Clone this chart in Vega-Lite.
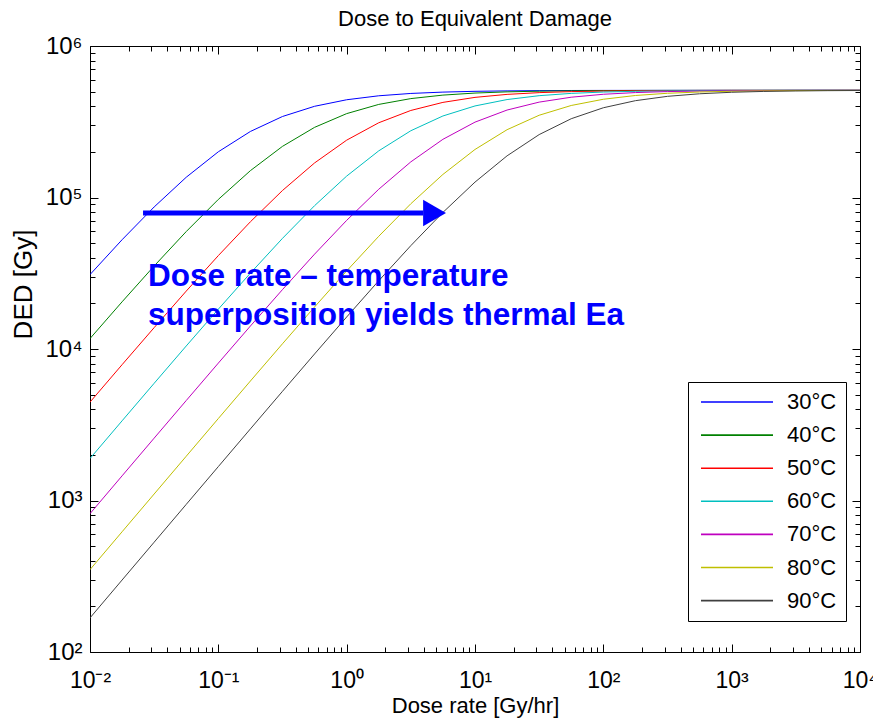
{
  "$schema": "https://vega.github.io/schema/vega-lite/v6.json",
  "width": 770,
  "height": 606,
  "autosize": {"type": "none"},
  "padding": {"left": 90, "top": 46, "right": 13, "bottom": 72},
  "background": "white",
  "config": {
    "font": "Liberation Sans",
    "view": {"stroke": "black", "strokeWidth": 1},
    "axis": {"grid": false, "domain": false, "tickColor": "black", "tickWidth": 1, "labelColor": "black", "titleColor": "black", "labelFont": "Liberation Sans", "titleFont": "Liberation Sans", "titleFontWeight": "normal", "labelFlush": false, "labelOverlap": false}
  },
  "title": {"text": "Dose to Equivalent Damage", "fontSize": 22, "fontWeight": "normal", "font": "Liberation Sans", "color": "black", "anchor": "middle", "baseline": "alphabetic", "frame": "group", "offset": -14},
  "datasets": {
    "curves": [
      {"r": 0.01, "d": 30990, "t": "30°C"}, {"r": 0.01778, "d": 52620, "t": "30°C"}, {"r": 0.03162, "d": 86630, "t": "30°C"}, {"r": 0.05623, "d": 136050, "t": "30°C"}, {"r": 0.1, "d": 200350, "t": "30°C"}, {"r": 0.1778, "d": 272850, "t": "30°C"}, {"r": 0.3162, "d": 342560, "t": "30°C"}, {"r": 0.5623, "d": 400000, "t": "30°C"}, {"r": 1, "d": 441700, "t": "30°C"}, {"r": 1.778, "d": 469180, "t": "30°C"}, {"r": 3.162, "d": 486190, "t": "30°C"}, {"r": 5.623, "d": 496300, "t": "30°C"}, {"r": 10, "d": 502190, "t": "30°C"}, {"r": 17.78, "d": 505560, "t": "30°C"}, {"r": 31.62, "d": 507460, "t": "30°C"}, {"r": 56.23, "d": 508540, "t": "30°C"}, {"r": 100, "d": 509170, "t": "30°C"}, {"r": 1000, "d": 509900, "t": "30°C"}, {"r": 10000, "d": 510000, "t": "30°C"},
      {"r": 0.01, "d": 11720, "t": "40°C"}, {"r": 0.01778, "d": 20480, "t": "40°C"}, {"r": 0.03162, "d": 35320, "t": "40°C"}, {"r": 0.05623, "d": 59590, "t": "40°C"}, {"r": 0.1, "d": 97140, "t": "40°C"}, {"r": 0.1778, "d": 150420, "t": "40°C"}, {"r": 0.3162, "d": 217560, "t": "40°C"}, {"r": 0.5623, "d": 290440, "t": "40°C"}, {"r": 1, "d": 357870, "t": "40°C"}, {"r": 1.778, "d": 411570, "t": "40°C"}, {"r": 3.162, "d": 449540, "t": "40°C"}, {"r": 5.623, "d": 474110, "t": "40°C"}, {"r": 10, "d": 489170, "t": "40°C"}, {"r": 17.78, "d": 498030, "t": "40°C"}, {"r": 31.62, "d": 503170, "t": "40°C"}, {"r": 56.23, "d": 506120, "t": "40°C"}, {"r": 100, "d": 507800, "t": "40°C"}, {"r": 177.8, "d": 508730, "t": "40°C"}, {"r": 316.2, "d": 509270, "t": "40°C"}, {"r": 1000, "d": 509740, "t": "40°C"}, {"r": 10000, "d": 510000, "t": "40°C"},
      {"r": 0.01, "d": 4461, "t": "50°C"}, {"r": 0.01778, "d": 7878, "t": "50°C"}, {"r": 0.03162, "d": 13840, "t": "50°C"}, {"r": 0.05623, "d": 24110, "t": "50°C"}, {"r": 0.1, "d": 41350, "t": "50°C"}, {"r": 0.1778, "d": 69160, "t": "50°C"}, {"r": 0.3162, "d": 111250, "t": "50°C"}, {"r": 0.5623, "d": 169120, "t": "50°C"}, {"r": 1, "d": 239050, "t": "50°C"}, {"r": 1.778, "d": 311450, "t": "50°C"}, {"r": 3.162, "d": 375400, "t": "50°C"}, {"r": 5.623, "d": 424410, "t": "50°C"}, {"r": 10, "d": 458040, "t": "50°C"}, {"r": 17.78, "d": 479390, "t": "50°C"}, {"r": 31.62, "d": 492300, "t": "50°C"}, {"r": 56.23, "d": 499880, "t": "50°C"}, {"r": 100, "d": 504240, "t": "50°C"}, {"r": 177.8, "d": 506710, "t": "50°C"}, {"r": 316.2, "d": 508130, "t": "50°C"}, {"r": 562.3, "d": 508910, "t": "50°C"}, {"r": 1000, "d": 509350, "t": "50°C"}, {"r": 10000, "d": 509930, "t": "50°C"},
      {"r": 0.01, "d": 1893, "t": "60°C"}, {"r": 0.01778, "d": 3356, "t": "60°C"}, {"r": 0.03162, "d": 5938, "t": "60°C"}, {"r": 0.05623, "d": 10470, "t": "60°C"}, {"r": 0.1, "d": 18320, "t": "60°C"}, {"r": 0.1778, "d": 31680, "t": "60°C"}, {"r": 0.3162, "d": 53750, "t": "60°C"}, {"r": 0.5623, "d": 88330, "t": "60°C"}, {"r": 1, "d": 138420, "t": "60°C"}, {"r": 1.778, "d": 203200, "t": "60°C"}, {"r": 3.162, "d": 275820, "t": "60°C"}, {"r": 5.623, "d": 345190, "t": "60°C"}, {"r": 10, "d": 402040, "t": "60°C"}, {"r": 17.78, "d": 443070, "t": "60°C"}, {"r": 31.62, "d": 470040, "t": "60°C"}, {"r": 56.23, "d": 486710, "t": "60°C"}, {"r": 100, "d": 496620, "t": "60°C"}, {"r": 177.8, "d": 502360, "t": "60°C"}, {"r": 316.2, "d": 505660, "t": "60°C"}, {"r": 562.3, "d": 507510, "t": "60°C"}, {"r": 1000, "d": 508570, "t": "60°C"}, {"r": 3162, "d": 509540, "t": "60°C"}, {"r": 10000, "d": 509850, "t": "60°C"},
      {"r": 0.01, "d": 818.7, "t": "70°C"}, {"r": 0.01778, "d": 1454, "t": "70°C"}, {"r": 0.03162, "d": 2580, "t": "70°C"}, {"r": 0.05623, "d": 4570, "t": "70°C"}, {"r": 0.1, "d": 8070, "t": "70°C"}, {"r": 0.1778, "d": 14180, "t": "70°C"}, {"r": 0.3162, "d": 24670, "t": "70°C"}, {"r": 0.5623, "d": 42290, "t": "70°C"}, {"r": 1, "d": 70640, "t": "70°C"}, {"r": 1.778, "d": 113380, "t": "70°C"}, {"r": 3.162, "d": 171890, "t": "70°C"}, {"r": 5.623, "d": 242140, "t": "70°C"}, {"r": 10, "d": 314420, "t": "70°C"}, {"r": 17.78, "d": 377800, "t": "70°C"}, {"r": 31.62, "d": 426130, "t": "70°C"}, {"r": 56.23, "d": 459160, "t": "70°C"}, {"r": 100, "d": 480080, "t": "70°C"}, {"r": 177.8, "d": 492710, "t": "70°C"}, {"r": 316.2, "d": 500100, "t": "70°C"}, {"r": 562.3, "d": 504360, "t": "70°C"}, {"r": 1000, "d": 506790, "t": "70°C"}, {"r": 1778, "d": 508160, "t": "70°C"}, {"r": 3162, "d": 508940, "t": "70°C"}, {"r": 10000, "d": 509640, "t": "70°C"},
      {"r": 0.01, "d": 349.8, "t": "80°C"}, {"r": 0.01778, "d": 621.5, "t": "80°C"}, {"r": 0.03162, "d": 1104, "t": "80°C"}, {"r": 0.05623, "d": 1960, "t": "80°C"}, {"r": 0.1, "d": 3476, "t": "80°C"}, {"r": 0.1778, "d": 6148, "t": "80°C"}, {"r": 0.3162, "d": 10830, "t": "80°C"}, {"r": 0.5623, "d": 18950, "t": "80°C"}, {"r": 1, "d": 32750, "t": "80°C"}, {"r": 1.778, "d": 55460, "t": "80°C"}, {"r": 3.162, "d": 90940, "t": "80°C"}, {"r": 5.623, "d": 142000, "t": "80°C"}, {"r": 10, "d": 207550, "t": "80°C"}, {"r": 17.78, "d": 280280, "t": "80°C"}, {"r": 31.62, "d": 349090, "t": "80°C"}, {"r": 56.23, "d": 405010, "t": "80°C"}, {"r": 100, "d": 445100, "t": "80°C"}, {"r": 177.8, "d": 471320, "t": "80°C"}, {"r": 316.2, "d": 487470, "t": "80°C"}, {"r": 562.3, "d": 497070, "t": "80°C"}, {"r": 1000, "d": 502610, "t": "80°C"}, {"r": 1778, "d": 505790, "t": "80°C"}, {"r": 3162, "d": 507610, "t": "80°C"}, {"r": 5623, "d": 508640, "t": "80°C"}, {"r": 10000, "d": 509230, "t": "80°C"},
      {"r": 0.01, "d": 167.9, "t": "90°C"}, {"r": 0.01778, "d": 298.5, "t": "90°C"}, {"r": 0.03162, "d": 530.6, "t": "90°C"}, {"r": 0.05623, "d": 942.9, "t": "90°C"}, {"r": 0.1, "d": 1674.5, "t": "90°C"}, {"r": 0.1778, "d": 2970, "t": "90°C"}, {"r": 0.3162, "d": 5257, "t": "90°C"}, {"r": 0.5623, "d": 9275, "t": "90°C"}, {"r": 1, "d": 16264, "t": "90°C"}, {"r": 1.778, "d": 28217, "t": "90°C"}, {"r": 3.162, "d": 48110, "t": "90°C"}, {"r": 5.623, "d": 79702, "t": "90°C"}, {"r": 10, "d": 126370, "t": "90°C"}, {"r": 17.78, "d": 188370, "t": "90°C"}, {"r": 31.62, "d": 260180, "t": "90°C"}, {"r": 56.23, "d": 331170, "t": "90°C"}, {"r": 100, "d": 391210, "t": "90°C"}, {"r": 177.8, "d": 435580, "t": "90°C"}, {"r": 316.2, "d": 465270, "t": "90°C"}, {"r": 562.3, "d": 483820, "t": "90°C"}, {"r": 1000, "d": 494930, "t": "90°C"}, {"r": 1778, "d": 501380, "t": "90°C"}, {"r": 3162, "d": 505100, "t": "90°C"}, {"r": 5623, "d": 507200, "t": "90°C"}, {"r": 10000, "d": 508390, "t": "90°C"}
    ],
    "arrow": [{"r": 0.0259, "d": 79000}, {"r": 3.95, "d": 79000}],
    "head": [{"r": 4.84, "d": 79000}],
    "note": [
      {"r": 0.0283, "d": 26060, "line": "Dose rate – temperature"},
      {"r": 0.0283, "d": 14390, "line": "superposition yields thermal Ea"}
    ]
  },
  "layer": [
    {
      "data": {"name": "curves"},
      "mark": {"type": "line", "strokeWidth": 1, "clip": true},
      "encoding": {
        "x": {"field": "r", "type": "quantitative",
          "scale": {"type": "log", "domain": [0.01, 10000], "nice": false},
          "axis": {"orient": "bottom", "values": [0.01, 0.1, 1, 10, 100, 1000, 10000],
            "labelExpr": "datum.value < 0.05 ? '10⁻²' : datum.value < 0.5 ? '10⁻¹' : datum.value < 5 ? '10⁰' : datum.value < 50 ? '10¹' : datum.value < 500 ? '10²' : datum.value < 5000 ? '10³' : '10⁴'",
            "tickSize": -8, "labelPadding": 25, "labelFontSize": 23, "labelBaseline": "top", "labelAlign": "center",
            "title": "Dose rate [Gy/hr]", "titleFontSize": 22, "titleX": 385, "titleY": 60, "titleAlign": "center", "titleBaseline": "alphabetic"}},
        "y": {"field": "d", "type": "quantitative",
          "scale": {"type": "log", "domain": [100, 1000000], "nice": false},
          "axis": {"orient": "left", "values": [100, 1000, 10000, 100000, 1000000],
            "labelExpr": "datum.value < 500 ? '10²' : datum.value < 5000 ? '10³' : datum.value < 50000 ? '10⁴' : datum.value < 500000 ? '10⁵' : '10⁶'",
            "tickSize": -8, "labelPadding": 16, "labelFontSize": 24, "labelBaseline": "middle", "labelAlign": "right",
            "title": "DED [Gy]", "titleFontSize": 26, "titleAngle": -90, "titleX": -59, "titleY": 238, "titleAlign": "center", "titleBaseline": "alphabetic"}},
        "color": {"field": "t", "type": "nominal",
          "scale": {"domain": ["30°C", "40°C", "50°C", "60°C", "70°C", "80°C", "90°C"], "range": ["#0000ff", "#008000", "#ff0000", "#00bfbf", "#bf00bf", "#bfbf00", "#404040"]},
          "legend": {"title": null, "orient": "none", "legendX": 598, "legendY": 336, "symbolType": "M-6,0H6", "symbolSize": 144, "symbolOffset": 29, "symbolStrokeWidth": 1.6, "labelOffset": 39, "labelFontSize": 22, "labelFont": "Liberation Sans", "labelColor": "black", "strokeColor": "black", "fillColor": "white", "padding": 9, "rowPadding": 11.1}}
      }
    },
    {
      "data": {"name": "arrow"},
      "mark": {"type": "line", "color": "#0000ff", "strokeWidth": 5, "strokeCap": "butt"},
      "encoding": {
        "x": {"field": "r", "type": "quantitative", "scale": {"type": "log", "domain": [0.01, 10000], "nice": false},
          "axis": {"orient": "top", "values": [0.01, 0.1, 1, 10, 100, 1000, 10000], "labels": false, "tickSize": -8, "title": null}},
        "y": {"field": "d", "type": "quantitative", "scale": {"type": "log", "domain": [100, 1000000], "nice": false},
          "axis": {"orient": "right", "values": [100, 1000, 10000, 100000, 1000000], "labels": false, "tickSize": -8, "title": null}}
      }
    },
    {
      "data": {"name": "head"},
      "mark": {"type": "point", "shape": "triangle-right", "filled": true, "color": "#0000ff", "opacity": 1, "size": 700},
      "encoding": {
        "x": {"field": "r", "type": "quantitative", "scale": {"type": "log", "domain": [0.01, 10000], "nice": false},
          "axis": {"orient": "bottom", "values": [0.02, 0.03, 0.04, 0.05, 0.06, 0.07, 0.08, 0.09, 0.2, 0.3, 0.4, 0.5, 0.6, 0.7, 0.8, 0.9, 2, 3, 4, 5, 6, 7, 8, 9, 20, 30, 40, 50, 60, 70, 80, 90, 200, 300, 400, 500, 600, 700, 800, 900, 2000, 3000, 4000, 5000, 6000, 7000, 8000, 9000], "labels": false, "tickSize": -5, "title": null}},
        "y": {"field": "d", "type": "quantitative", "scale": {"type": "log", "domain": [100, 1000000], "nice": false},
          "axis": {"orient": "left", "values": [200, 300, 400, 500, 600, 700, 800, 900, 2000, 3000, 4000, 5000, 6000, 7000, 8000, 9000, 20000, 30000, 40000, 50000, 60000, 70000, 80000, 90000, 200000, 300000, 400000, 500000, 600000, 700000, 800000, 900000], "labels": false, "tickSize": -5, "title": null}}
      }
    },
    {
      "data": {"name": "note"},
      "mark": {"type": "text", "align": "left", "baseline": "alphabetic", "font": "Liberation Sans", "fontSize": 31.5, "fontWeight": "bold", "color": "#0000ff"},
      "encoding": {
        "x": {"field": "r", "type": "quantitative", "scale": {"type": "log", "domain": [0.01, 10000], "nice": false},
          "axis": {"orient": "top", "values": [0.02, 0.03, 0.04, 0.05, 0.06, 0.07, 0.08, 0.09, 0.2, 0.3, 0.4, 0.5, 0.6, 0.7, 0.8, 0.9, 2, 3, 4, 5, 6, 7, 8, 9, 20, 30, 40, 50, 60, 70, 80, 90, 200, 300, 400, 500, 600, 700, 800, 900, 2000, 3000, 4000, 5000, 6000, 7000, 8000, 9000], "labels": false, "tickSize": -5, "title": null}},
        "y": {"field": "d", "type": "quantitative", "scale": {"type": "log", "domain": [100, 1000000], "nice": false},
          "axis": {"orient": "right", "values": [200, 300, 400, 500, 600, 700, 800, 900, 2000, 3000, 4000, 5000, 6000, 7000, 8000, 9000, 20000, 30000, 40000, 50000, 60000, 70000, 80000, 90000, 200000, 300000, 400000, 500000, 600000, 700000, 800000, 900000], "labels": false, "tickSize": -5, "title": null}},
        "text": {"field": "line", "type": "nominal"}
      }
    }
  ],
  "resolve": {"axis": {"x": "independent", "y": "independent"}}
}
